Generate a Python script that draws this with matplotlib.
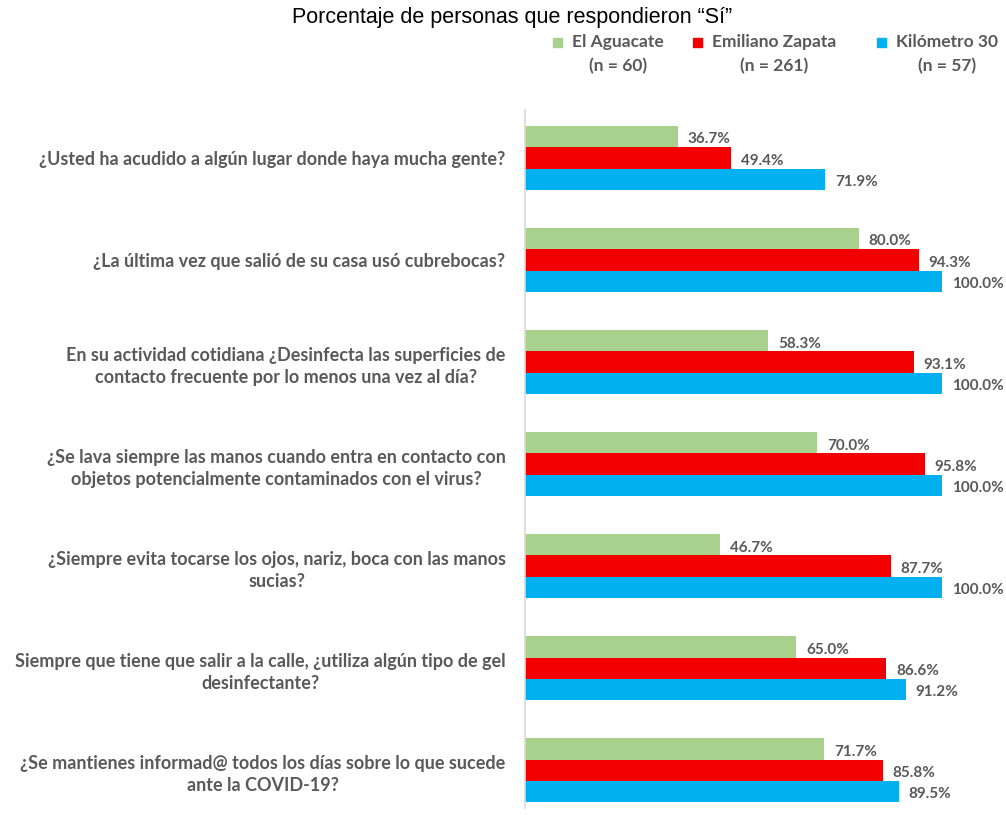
import matplotlib
matplotlib.use("Agg")
import numpy as np
import matplotlib.pyplot as plt
from matplotlib.patches import Rectangle

# Survey data: share of people answering "Sí" per community
preguntas = [
    "¿Usted ha acudido a algún lugar donde haya mucha gente?",
    "¿La última vez que salió de su casa usó cubrebocas?",
    "En su actividad cotidiana ¿Desinfecta las superficies de\ncontacto frecuente por lo menos una vez al día?",
    "¿Se lava siempre las manos cuando entra en contacto con\nobjetos potencialmente contaminados con el virus?",
    "¿Siempre evita tocarse los ojos, nariz, boca con las manos\nsucias?",
    "Siempre que tiene que salir a la calle, ¿utiliza algún tipo de gel\ndesinfectante?",
    "¿Se mantienes informad@ todos los días sobre lo que sucede\nante la COVID-19?",
]
comunidades = ["El Aguacate", "Emiliano Zapata", "Kilómetro 30"]
muestras = [60, 261, 57]
aguacate = [36.7, 80.0, 58.3, 70.0, 46.7, 65.0, 71.7]
zapata = [49.4, 94.3, 93.1, 95.8, 87.7, 86.6, 85.8]
km30 = [71.9, 100.0, 100.0, 100.0, 100.0, 91.2, 89.5]

GREEN = "#A9D18E"
RED = "#F20000"
BLUE = "#00B0F0"
TEXT = "#595959"
FONT = "Lato"

fig = plt.figure(figsize=(10.06, 8.15), dpi=100)
ax = fig.add_axes([525 / 1006, 1 - 808 / 815, 480 / 1006, (808 - 110) / 815])

y = np.arange(len(preguntas))
h = 0.209
series = [aguacate, zapata, km30]
colors = [GREEN, RED, BLUE]
for i, (vals, col) in enumerate(zip(series, colors)):
    pos = y + (i - 1) * h
    bars = ax.barh(pos, vals, height=h, color=col, edgecolor="none")
    for b, v in zip(bars, vals):
        ax.annotate(f"{v:.1f}%", xy=(b.get_width(), b.get_y() + b.get_height() / 2),
                    xytext=(7, -2), textcoords="offset points",
                    va="center", ha="left", fontsize=11, fontweight="bold",
                    color=TEXT, family=FONT)

ax.set_xlim(0, 115)
ax.set_ylim(len(preguntas) - 1 + 0.37, -0.47)
ax.set_yticks(y)
ax.set_yticklabels(preguntas, fontsize=13, fontweight="bold", color=TEXT,
                   family=FONT, multialignment="center", linespacing=1.4)
ax.tick_params(axis="y", length=0, pad=14)
ax.set_xticks([])
for s in ["top", "right", "bottom"]:
    ax.spines[s].set_visible(False)
ax.spines["left"].set_color("#D9D9D9")
ax.spines["left"].set_linewidth(1.2)

fig.text(512 / 1006, 1 - 18 / 815, "Porcentaje de personas que respondieron “Sí”",
         ha="center", va="center", fontsize=15.5, family="Liberation Sans",
         color="black")

# legend drawn by hand: square + name, sample size underneath
leg_x = [553, 693, 877]
for x0, name, n, col in zip(leg_x, comunidades, muestras, colors):
    fig.patches.append(Rectangle((x0 / 1006, 1 - 47 / 815), 9 / 1006, 9 / 815,
                                 transform=fig.transFigure, color=col))
    t = fig.text((x0 + 19) / 1006, 1 - 42 / 815, name, ha="left", va="center",
                 fontsize=12.5, fontweight="bold", color=TEXT, family=FONT)
    fig.canvas.draw()
    bb = t.get_window_extent()
    cx = (bb.x0 + bb.x1) / 2 / fig.bbox.width
    fig.text(cx, 1 - 66 / 815, f"(n = {n})", ha="center", va="center",
             fontsize=12.5, fontweight="bold", color=TEXT, family=FONT)

fig.savefig("out.png", dpi=100, facecolor="white")
